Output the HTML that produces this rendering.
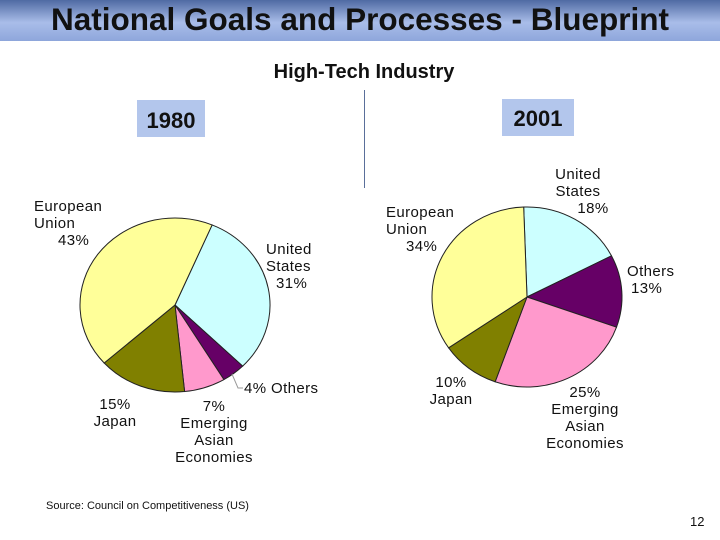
<!DOCTYPE html>
<html><head><meta charset="utf-8"><style>
body{margin:0;width:720px;height:540px;background:#fff;overflow:hidden;font-family:"Liberation Sans",sans-serif;position:relative}
.t{position:absolute;color:#111}
</style></head><body>
<div style="position:absolute;left:0;top:0;width:720px;height:41px;background:linear-gradient(#4f6aa3,#a9bde9 55%,#8ea6db);"></div>
<div class="t" style="left:0;top:1px;width:720px;text-align:center;font-size:31.5px;font-weight:bold;">National Goals and Processes - Blueprint</div>
<div class="t" style="left:0;top:61px;width:728px;text-align:center;font-size:20px;font-weight:bold;">High-Tech Industry</div>
<div style="position:absolute;left:364px;top:90px;width:1px;height:98px;background:#5a6f9a"></div>
<div class="t" style="left:137px;top:100px;width:68px;height:37px;background:#b3c6ec;font-size:22px;font-weight:bold;text-align:center;line-height:41px;">1980</div>
<div class="t" style="left:502px;top:99px;width:72px;height:37px;background:#b3c6ec;font-size:22px;font-weight:bold;text-align:center;line-height:39px;">2001</div>
<svg id="svg" width="720" height="540" style="position:absolute;left:0;top:0"></svg>
<div class="t" style="left:46px;top:500px;font-size:11px;">Source: Council on Competitiveness (US)</div>
<div class="t" style="left:690px;top:514px;font-size:13px;">12</div>
<script>
const categories1980=["United States","Others","Emerging Asian Economies","Japan","European Union"];
const values1980=[31,4,7,15,43];
const categories2001=["United States","Others","Emerging Asian Economies","Japan","European Union"];
const values2001=[18,13,25,10,34];
const colors={"United States":"#ccffff","Others":"#660066","Emerging Asian Economies":"#ff99cc","Japan":"#808000","European Union":"#ffff99"};
const svg=document.getElementById('svg');
const NS='http://www.w3.org/2000/svg';
function pie(cats,vals,cx,cy,rx,ry,start,name){
  const tot=vals.reduce((a,b)=>a+b,0);
  let a=start;
  cats.forEach((c,i)=>{
    const a2=a+vals[i]/tot*360;
    const p=d=>[cx+rx*Math.sin(d*Math.PI/180),cy-ry*Math.cos(d*Math.PI/180)];
    const [x1,y1]=p(a),[x2,y2]=p(a2);
    const path=document.createElementNS(NS,'path');
    path.setAttribute('d',`M${cx},${cy}L${x1},${y1}A${rx},${ry} 0 ${a2-a>180?1:0} 1 ${x2},${y2}Z`);
    path.setAttribute('fill',colors[c]);path.setAttribute('stroke','#222');path.setAttribute('stroke-width','1');
    
    
    svg.appendChild(path);
    a=a2;
  });
}
pie(categories1980,values1980,175,305,95,87,23,'pie-1980');
pie(categories2001,values2001,527,297,95,90,-2,'pie-2001');
const ln=document.createElementNS(NS,'polyline');
ln.setAttribute('points','232,374 238,388 243,388');ln.setAttribute('fill','none');ln.setAttribute('stroke','#999');


svg.appendChild(ln);
const labels=[
 [34,198,'left','European<br>Union<br><span style="padding-left:24px">43%</span>','label-1980-eu'],
 [266,241,'left','United<br>States<br><span style="padding-left:10px">31%</span>','label-1980-us'],
 [244,380,'left','4% Others','label-1980-others'],
 [115,396,'center','15%<br>Japan','label-1980-japan'],
 [214,398,'center','7%<br>Emerging<br>Asian<br>Economies','label-1980-emerging'],
 [386,204,'left','European<br>Union<br><span style="padding-left:20px">34%</span>','label-2001-eu'],
 [578,166,'center','United<br>States<br><span style="padding-left:30px">18%</span>','label-2001-us'],
 [627,263,'left','Others<br><span style="padding-left:4px">13%</span>','label-2001-others'],
 [451,374,'center','10%<br>Japan','label-2001-japan'],
 [585,384,'center','25%<br>Emerging<br>Asian<br>Economies','label-2001-emerging']
];
labels.forEach(l=>{
 const d=document.createElement('div');
 d.className='t';
 d.style.cssText=`left:${l[0]}px;top:${l[1]}px;font-size:15px;letter-spacing:0.4px;line-height:17px;text-align:${l[2]};`;
 if(l[2]=='center'){d.style.left=(l[0]-60)+'px';d.style.width='120px';}
 d.innerHTML=l[3];
 
 
 document.body.appendChild(d);
});
</script>
</body></html>
